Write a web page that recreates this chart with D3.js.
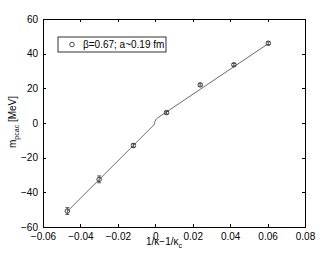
<!DOCTYPE html>
<meta charset="utf-8">
<style>
  body { margin: 0; background: #fff; }
  text { font-family: "Liberation Sans", Arial, sans-serif; fill: #000; }
  .axis path, .axis line { fill: none; stroke: #000; shape-rendering: crispEdges; }
</style>
<body>
<script src="https://cdn.jsdelivr.net/npm/d3@7"></script>
<script>
// measured points
var xs   = [-0.047, -0.030, -0.0117, 0.006, 0.024, 0.042, 0.0604];
var ys   = [-50.8, -32.5, -13.0, 6.0, 22.0, 33.6, 46.0];
var errs = [2.0, 2.0, 1.0, 0.8, 0.7, 0.7, 0.8];

// fit curve
var fitX = [-0.047, -0.0012, -0.0008, -0.0005, -0.0002, 0.0002, 0.0006, 0.0012, 0.06];
var fitY = [-51.0, -1.6, -1.2, -0.4, 0.8, 1.8, 2.4, 2.9, 45.5];

var xTicks = [-0.06, -0.04, -0.02, 0, 0.02, 0.04, 0.06, 0.08];
var yTicks = [-60, -40, -20, 0, 20, 40, 60];
var legendLabel = "\u03b2=0.67; a~0.19 fm";

var margin = {top: 19, right: 31, bottom: 26, left: 43},
    W = 336, H = 253,
    width = W - margin.left - margin.right,
    height = H - margin.top - margin.bottom;

var svg = d3.select("body").append("svg")
    .attr("width", W)
    .attr("height", H);

var g = svg.append("g")
    .attr("transform", "translate(" + margin.left + "," + margin.top + ")");

var x = d3.scaleLinear().domain([-0.06, 0.08]).range([0, width]);
var y = d3.scaleLinear().domain([-60, 60]).range([height, 0]);

var fmt = function(d) { return d === 0 ? "0" : String(d).replace("-", "\u2212"); };

// axes, MATLAB style ticks inward on all sides
g.append("g").attr("class", "axis")
  .attr("transform", "translate(0," + height + ")")
  .call(d3.axisBottom(x).tickValues(xTicks).tickSize(-3).tickPadding(6).tickFormat(fmt));
g.append("g").attr("class", "axis")
  .call(d3.axisTop(x).tickValues(xTicks).tickSize(-3).tickFormat(""));
g.append("g").attr("class", "axis")
  .call(d3.axisLeft(y).tickValues(yTicks).tickSize(-3).tickPadding(5).tickFormat(fmt));
g.append("g").attr("class", "axis")
  .attr("transform", "translate(" + width + ",0)")
  .call(d3.axisRight(y).tickValues(yTicks).tickSize(-3).tickFormat(""));

g.selectAll(".axis text").style("font-size", "10px").style("font-family", "Liberation Sans, Arial, sans-serif");
g.selectAll(".axis .domain").style("stroke-width", "1px");

// fit line
var line = d3.line()
  .x(function(d) { return x(d[0]); })
  .y(function(d) { return y(d[1]); });

g.append("path")
  .datum(d3.zip(fitX, fitY))
  .attr("d", line)
  .attr("fill", "none")
  .attr("stroke", "#444")
  .attr("stroke-width", 0.8);

// error bars
var pts = xs.map(function(v, i) { return {x: v, y: ys[i], e: errs[i]}; });
var eb = g.selectAll(".err").data(pts).enter().append("g").attr("class", "err")
  .attr("stroke", "#222").attr("stroke-width", 0.7);
eb.append("line")
  .attr("x1", function(d) { return x(d.x); }).attr("x2", function(d) { return x(d.x); })
  .attr("y1", function(d) { return y(d.y - d.e); }).attr("y2", function(d) { return y(d.y + d.e); });
eb.append("line")
  .attr("x1", function(d) { return x(d.x) - 2; }).attr("x2", function(d) { return x(d.x) + 2; })
  .attr("y1", function(d) { return y(d.y - d.e); }).attr("y2", function(d) { return y(d.y - d.e); });
eb.append("line")
  .attr("x1", function(d) { return x(d.x) - 2; }).attr("x2", function(d) { return x(d.x) + 2; })
  .attr("y1", function(d) { return y(d.y + d.e); }).attr("y2", function(d) { return y(d.y + d.e); });

g.selectAll(".pt").data(pts).enter().append("circle")
  .attr("cx", function(d) { return x(d.x); })
  .attr("cy", function(d) { return y(d.y); })
  .attr("r", 2.3)
  .attr("fill", "none")
  .attr("stroke", "#222")
  .attr("stroke-width", 0.8);

// legend
var leg = g.append("g").attr("transform", "translate(15,18)");
leg.append("rect")
  .attr("width", 108).attr("height", 15)
  .attr("fill", "#fff").attr("stroke", "#000").attr("stroke-width", 0.8);
leg.append("circle").attr("cx", 14).attr("cy", 7.5).attr("r", 2.3)
  .attr("fill", "none").attr("stroke", "#222").attr("stroke-width", 0.8);
leg.append("text").attr("x", 25).attr("y", 11.3)
  .style("font-size", "10px").text(legendLabel);

// x label
var xl = svg.append("text")
  .attr("x", 146).attr("y", 245)
  .style("font-size", "10px");
xl.append("tspan").text("1/\u03ba\u22121/\u03ba");
xl.append("tspan").attr("dy", 3).style("font-size", "7px").text("c");

// y label
var yl = svg.append("text")
  .attr("transform", "translate(16,148) rotate(-90)")
  .style("font-size", "10px");
yl.append("tspan").text("m");
yl.append("tspan").attr("dy", 3).style("font-size", "7px").text("pcac");
yl.append("tspan").attr("dy", -3).text(" [MeV]");
</script>
</body>
